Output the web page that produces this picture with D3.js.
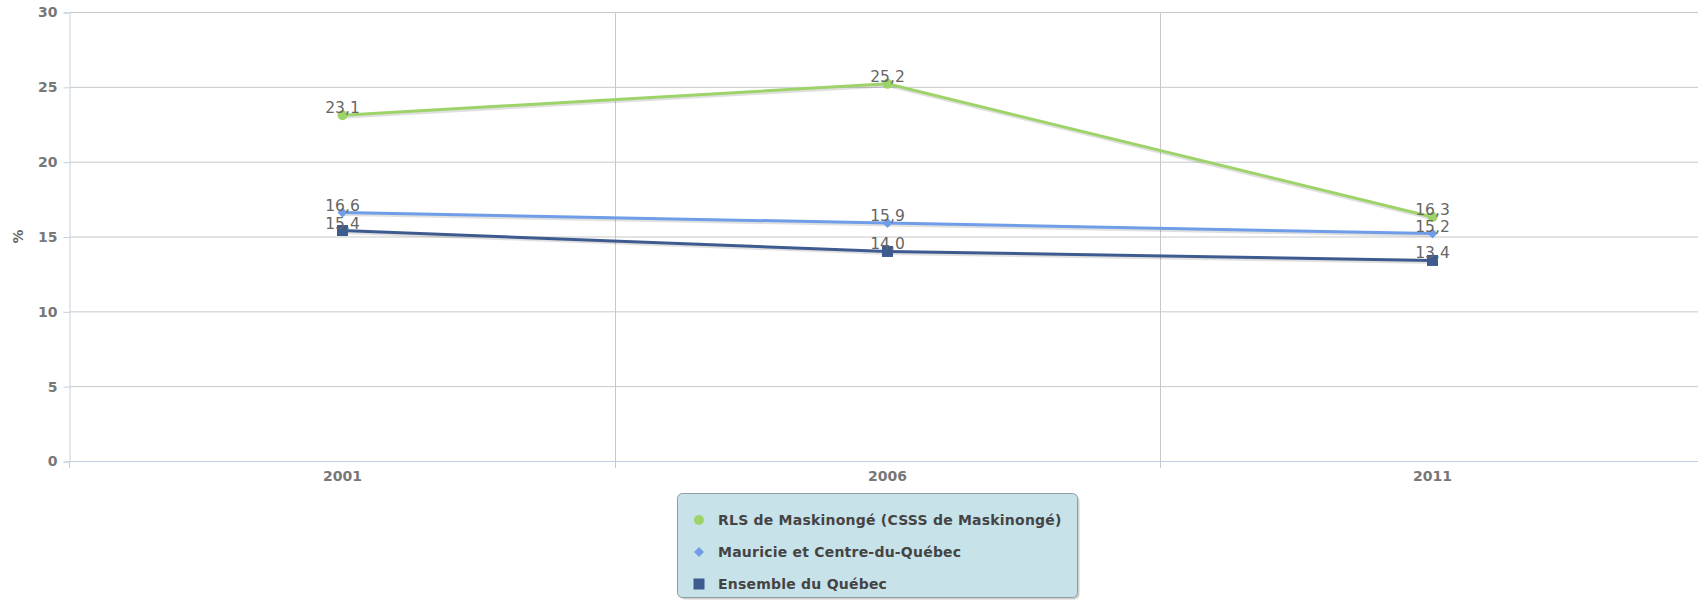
<html>
<head>
    <meta charset="utf-8">
    <script src="https://cdn.jsdelivr.net/npm/d3@7"></script>
    <style>
        body { margin: 0; background: #fff; }
        text { font-family: "DejaVu Sans", Verdana, sans-serif; }
    </style>
</head>
<body>
<script>
    var width = 1698;
    var height = 601;

    // chart data
    var years = ["2001", "2006", "2011"];
    var seriesNames = [
        "RLS de Maskinongé (CSSS de Maskinongé)",
        "Mauricie et Centre-du-Québec",
        "Ensemble du Québec"
    ];
    var maskinonge = [23.1, 25.2, 16.3];
    var mauricie = [16.6, 15.9, 15.2];
    var quebec = [15.4, 14.0, 13.4];
    var yTicks = [0, 5, 10, 15, 20, 25, 30];

    var colors = ["#9ed36a", "#6f9de8", "#3d5b8f"];
    var shapes = ["circle", "diamond", "square"];
    var allSeries = [maskinonge, mauricie, quebec];

    var svg = d3.select("body").append("svg")
        .attr("width", width)
        .attr("height", height);

    var x = d3.scaleBand()
        .domain(years)
        .range([70, 1705]);

    var y = d3.scaleLinear()
        .domain([0, 30])
        .range([461, 12]);

    // horizontal grid lines
    svg.append("g")
        .selectAll("line")
        .data(yTicks.filter(d => d > 0))
        .join("line")
            .attr("x1", 70)
            .attr("x2", width)
            .attr("y1", d => y(d) + 0.5)
            .attr("y2", d => y(d) + 0.5)
            .attr("stroke", "#c8c8c8")
            .attr("stroke-width", 1);

    // vertical grid lines at band boundaries
    var bounds = years.map(d => x(d));
    svg.append("g")
        .selectAll("line")
        .data(bounds.slice(1))
        .join("line")
            .attr("x1", d => Math.round(d) + 0.5)
            .attr("x2", d => Math.round(d) + 0.5)
            .attr("y1", y(30))
            .attr("y2", y(0) + 7)
            .attr("stroke", "#c8c8c8");

    // y axis
    var yAxis = d3.axisLeft(y)
        .tickValues(yTicks)
        .tickSize(6)
        .tickPadding(6);
    var gy = svg.append("g")
        .attr("transform", "translate(69.5,0.5)")
        .call(yAxis);
    gy.select(".domain").attr("stroke", "#c0d0e0");
    gy.selectAll(".tick line").attr("stroke", "#c0d0e0");
    gy.selectAll(".tick text")
        .attr("fill", "#777")
        .style("font-size", "14px")
        .style("font-weight", "bold");

    // x axis line
    svg.append("line")
        .attr("x1", 69)
        .attr("x2", width)
        .attr("y1", y(0) + 0.5)
        .attr("y2", y(0) + 0.5)
        .attr("stroke", "#c0d0e0");

    svg.append("line")
        .attr("x1", 69.5)
        .attr("x2", 69.5)
        .attr("y1", y(0))
        .attr("y2", y(0) + 7)
        .attr("stroke", "#c0d0e0");

    // x labels
    svg.append("g")
        .selectAll("text")
        .data(years)
        .join("text")
            .attr("x", d => x(d) + x.bandwidth() / 2)
            .attr("y", 481)
            .attr("text-anchor", "middle")
            .attr("fill", "#777")
            .style("font-size", "14px")
            .style("font-weight", "bold")
            .text(d => d);

    // y title
    svg.append("text")
        .attr("transform", "translate(23," + y(15) + ") rotate(-90)")
        .attr("text-anchor", "middle")
        .attr("fill", "#666")
        .style("font-size", "14px")
        .style("font-weight", "bold")
        .text("%");

    var cx = d => x(d) + x.bandwidth() / 2;
    var line = d3.line()
        .x((d, i) => cx(years[i]))
        .y(d => y(d));

    function drawMarker(g, shape, color, px, py) {
        if (shape == "circle") {
            g.append("circle").attr("cx", px).attr("cy", py).attr("r", 5).attr("fill", color);
        } else if (shape == "diamond") {
            g.append("path")
                .attr("d", "M" + px + "," + (py - 5) + "L" + (px + 5) + "," + py + "L" + px + "," + (py + 5) + "L" + (px - 5) + "," + py + "Z")
                .attr("fill", color);
        } else {
            g.append("rect").attr("x", px - 5.5).attr("y", py - 5.5).attr("width", 11).attr("height", 11).attr("fill", color);
        }
    }

    // series (draw bottom series first)
    [2, 1, 0].forEach(function(k) {
        var values = allSeries[k];
        var g = svg.append("g");
        g.append("path")
            .datum(values)
            .attr("d", line)
            .attr("transform", "translate(1,1.5)")
            .attr("fill", "none")
            .attr("stroke", "rgba(0,0,0,0.12)")
            .attr("stroke-width", 4);
        g.append("path")
            .datum(values)
            .attr("d", line)
            .attr("fill", "none")
            .attr("stroke", colors[k])
            .attr("stroke-width", 3);
        values.forEach(function(v, i) {
            drawMarker(g, shapes[k], colors[k], cx(years[i]), y(v));
        });
    });

    // data labels
    [0, 1, 2].forEach(function(k) {
        svg.append("g")
            .selectAll("text")
            .data(allSeries[k])
            .join("text")
                .attr("x", (d, i) => cx(years[i]))
                .attr("y", d => y(d) - 2)
                .attr("text-anchor", "middle")
                .attr("fill", "#666")
                .style("font-size", "15.5px")
                .text(d => d.toFixed(1).replace(".", ","));
    });

    // legend
    var legend = svg.append("g");
    legend.append("rect")
        .attr("x", 679.5)
        .attr("y", 495.5)
        .attr("width", 400)
        .attr("height", 104)
        .attr("rx", 5)
        .attr("fill", "rgba(0,0,0,0.18)");
    legend.append("rect")
        .attr("x", 677.5)
        .attr("y", 493.5)
        .attr("width", 400)
        .attr("height", 104)
        .attr("rx", 5)
        .attr("fill", "#c8e2e9")
        .attr("stroke", "#8c9ca2")
        .attr("stroke-width", 1);

    seriesNames.forEach(function(name, k) {
        var ly = 520 + k * 32;
        drawMarker(legend, shapes[k], colors[k], 699, ly);
        legend.append("text")
            .attr("x", 718)
            .attr("y", ly + 5)
            .attr("fill", "#444")
            .style("font-size", "14px")
            .style("font-weight", "bold")
            .style("letter-spacing", "0.22px")
            .text(name);
    });
</script>
</body>
</html>
